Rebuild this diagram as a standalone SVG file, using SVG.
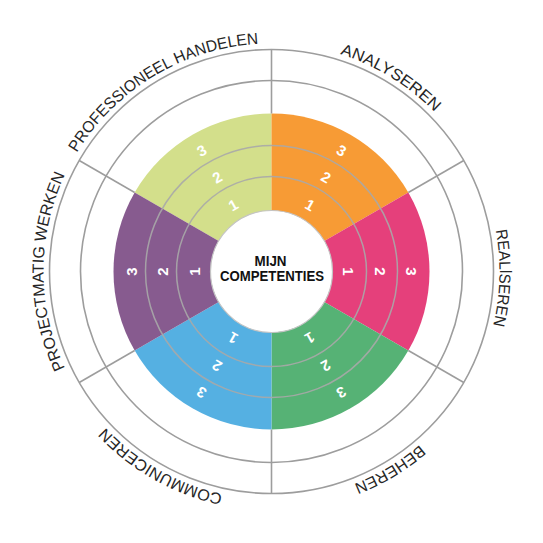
<svg xmlns="http://www.w3.org/2000/svg" xmlns:xlink="http://www.w3.org/1999/xlink" width="543" height="543" viewBox="0 0 543 543">
  <style>
    .grid { fill: none; stroke: #9d9d9d; stroke-width: 1.6; }
    .ring { fill: none; stroke: #a9a9a9; stroke-width: 1.5; opacity: 0.9; }
    .num { font-family: "Liberation Sans", "DejaVu Sans", sans-serif; font-weight: bold; font-size: 15px; fill: #ffffff; text-anchor: middle; dominant-baseline: central; }
    .label { font-family: "Liberation Sans", "DejaVu Sans", sans-serif; font-size: 16px; fill: #262626; text-anchor: middle; }
    .center { font-family: "Liberation Sans", "DejaVu Sans", sans-serif; font-weight: bold; font-size: 14px; fill: #111111; text-anchor: middle; }
  </style>
  <defs>
    <!-- clockwise circle for the outer labels, starting at the bottom -->
    <path id="labelArc" d="M271.5,499.5 A228,228 0 1 1 271.5,43.5 A228,228 0 1 1 271.5,499.5"/>
  </defs>
  <rect width="543" height="543" fill="#ffffff"/>

  <!-- coloured competence sectors -->
  <g id="professioneel-handelen">
    <path d="M271.5,271.5 L134.67,192.5 A158,158 0 0 1 271.5,113.5 Z" fill="#d3df8b"/>
  </g>
  <g id="analyseren">
    <path d="M271.5,271.5 L271.5,113.5 A158,158 0 0 1 408.33,192.5 Z" fill="#f79b35"/>
  </g>
  <g id="realiseren">
    <path d="M271.5,271.5 L408.33,192.5 A158,158 0 0 1 408.33,350.5 Z" fill="#e5407b"/>
  </g>
  <g id="beheren">
    <path d="M271.5,271.5 L408.33,350.5 A158,158 0 0 1 271.5,429.5 Z" fill="#56b275"/>
  </g>
  <g id="communiceren">
    <path d="M271.5,271.5 L271.5,429.5 A158,158 0 0 1 134.67,350.5 Z" fill="#55b0e2"/>
  </g>
  <g id="projectmatig-werken">
    <path d="M271.5,271.5 L134.67,350.5 A158,158 0 0 1 134.67,192.5 Z" fill="#875b8f"/>
  </g>

  <!-- level rings inside the sectors -->
  <g id="levels">
    <circle class="ring" cx="271.5" cy="271.5" r="126"/>
    <circle class="ring" cx="271.5" cy="271.5" r="95"/>
  </g>

  <!-- outer grid: circles and sector dividers -->
  <g id="connectors">
    <circle class="grid" cx="271.5" cy="271.5" r="222"/>
    <circle class="grid" cx="271.5" cy="271.5" r="191"/>
    <line class="grid" x1="271.5" y1="49.5" x2="271.5" y2="113.5"/>
    <line class="grid" x1="271.5" y1="429.5" x2="271.5" y2="493.5"/>
    <line class="grid" x1="408.33" y1="192.5" x2="463.76" y2="160.5"/>
    <line class="grid" x1="408.33" y1="350.5" x2="463.76" y2="382.5"/>
    <line class="grid" x1="134.67" y1="350.5" x2="79.24" y2="382.5"/>
    <line class="grid" x1="134.67" y1="192.5" x2="79.24" y2="160.5"/>
  </g>

  <!-- centre -->
  <g id="mijn-competenties">
    <circle cx="271.5" cy="271.5" r="61" fill="#ffffff" stroke="#c4c4c4" stroke-width="1.2"/>
    <text class="center" x="270.5" y="265.5" textLength="32" lengthAdjust="spacingAndGlyphs">MIJN</text>
    <text class="center" x="272" y="281.2" textLength="104" lengthAdjust="spacingAndGlyphs">COMPETENTIES</text>
  </g>

  <!-- level numbers -->
  <g id="numbers">
    <text class="num" transform="translate(233,204.8) rotate(-30)">1</text>
    <text class="num" transform="translate(217,177.1) rotate(-30)">2</text>
    <text class="num" transform="translate(201.5,150.3) rotate(-30)">3</text>

    <text class="num" transform="translate(310,204.8) rotate(30)">1</text>
    <text class="num" transform="translate(326,177.1) rotate(30)">2</text>
    <text class="num" transform="translate(341.5,150.3) rotate(30)">3</text>

    <text class="num" transform="translate(348.5,271.5) rotate(90)">1</text>
    <text class="num" transform="translate(380.5,271.5) rotate(90)">2</text>
    <text class="num" transform="translate(411.5,271.5) rotate(90)">3</text>

    <text class="num" transform="translate(310,338.2) rotate(150)">1</text>
    <text class="num" transform="translate(326,365.9) rotate(150)">2</text>
    <text class="num" transform="translate(341.5,392.7) rotate(150)">3</text>

    <text class="num" transform="translate(233,338.2) rotate(-150)">1</text>
    <text class="num" transform="translate(217,365.9) rotate(-150)">2</text>
    <text class="num" transform="translate(201.5,392.7) rotate(-150)">3</text>

    <text class="num" transform="translate(194.5,271.5) rotate(-90)">1</text>
    <text class="num" transform="translate(162.5,271.5) rotate(-90)">2</text>
    <text class="num" transform="translate(131.5,271.5) rotate(-90)">3</text>
  </g>

  <!-- outer labels along the rim -->
  <g id="labels">
    <text class="label"><textPath xlink:href="#labelArc" href="#labelArc" startOffset="117.8" textLength="137" lengthAdjust="spacingAndGlyphs">COMMUNICEREN</textPath></text>
    <text class="label"><textPath xlink:href="#labelArc" href="#labelArc" startOffset="358.1" textLength="200" lengthAdjust="spacingAndGlyphs">PROJECTMATIG WERKEN</textPath></text>
    <text class="label"><textPath xlink:href="#labelArc" href="#labelArc" startOffset="592.9" textLength="220" lengthAdjust="spacingAndGlyphs">PROFESSIONEEL HANDELEN</textPath></text>
    <text class="label"><textPath xlink:href="#labelArc" href="#labelArc" startOffset="841.6" textLength="112" lengthAdjust="spacingAndGlyphs">ANALYSEREN</textPath></text>
    <text class="label"><textPath xlink:href="#labelArc" href="#labelArc" startOffset="1080.4" textLength="96" lengthAdjust="spacingAndGlyphs">REALISEREN</textPath></text>
    <text class="label"><textPath xlink:href="#labelArc" href="#labelArc" startOffset="1309.2" textLength="77" lengthAdjust="spacingAndGlyphs">BEHEREN</textPath></text>
  </g>
</svg>
